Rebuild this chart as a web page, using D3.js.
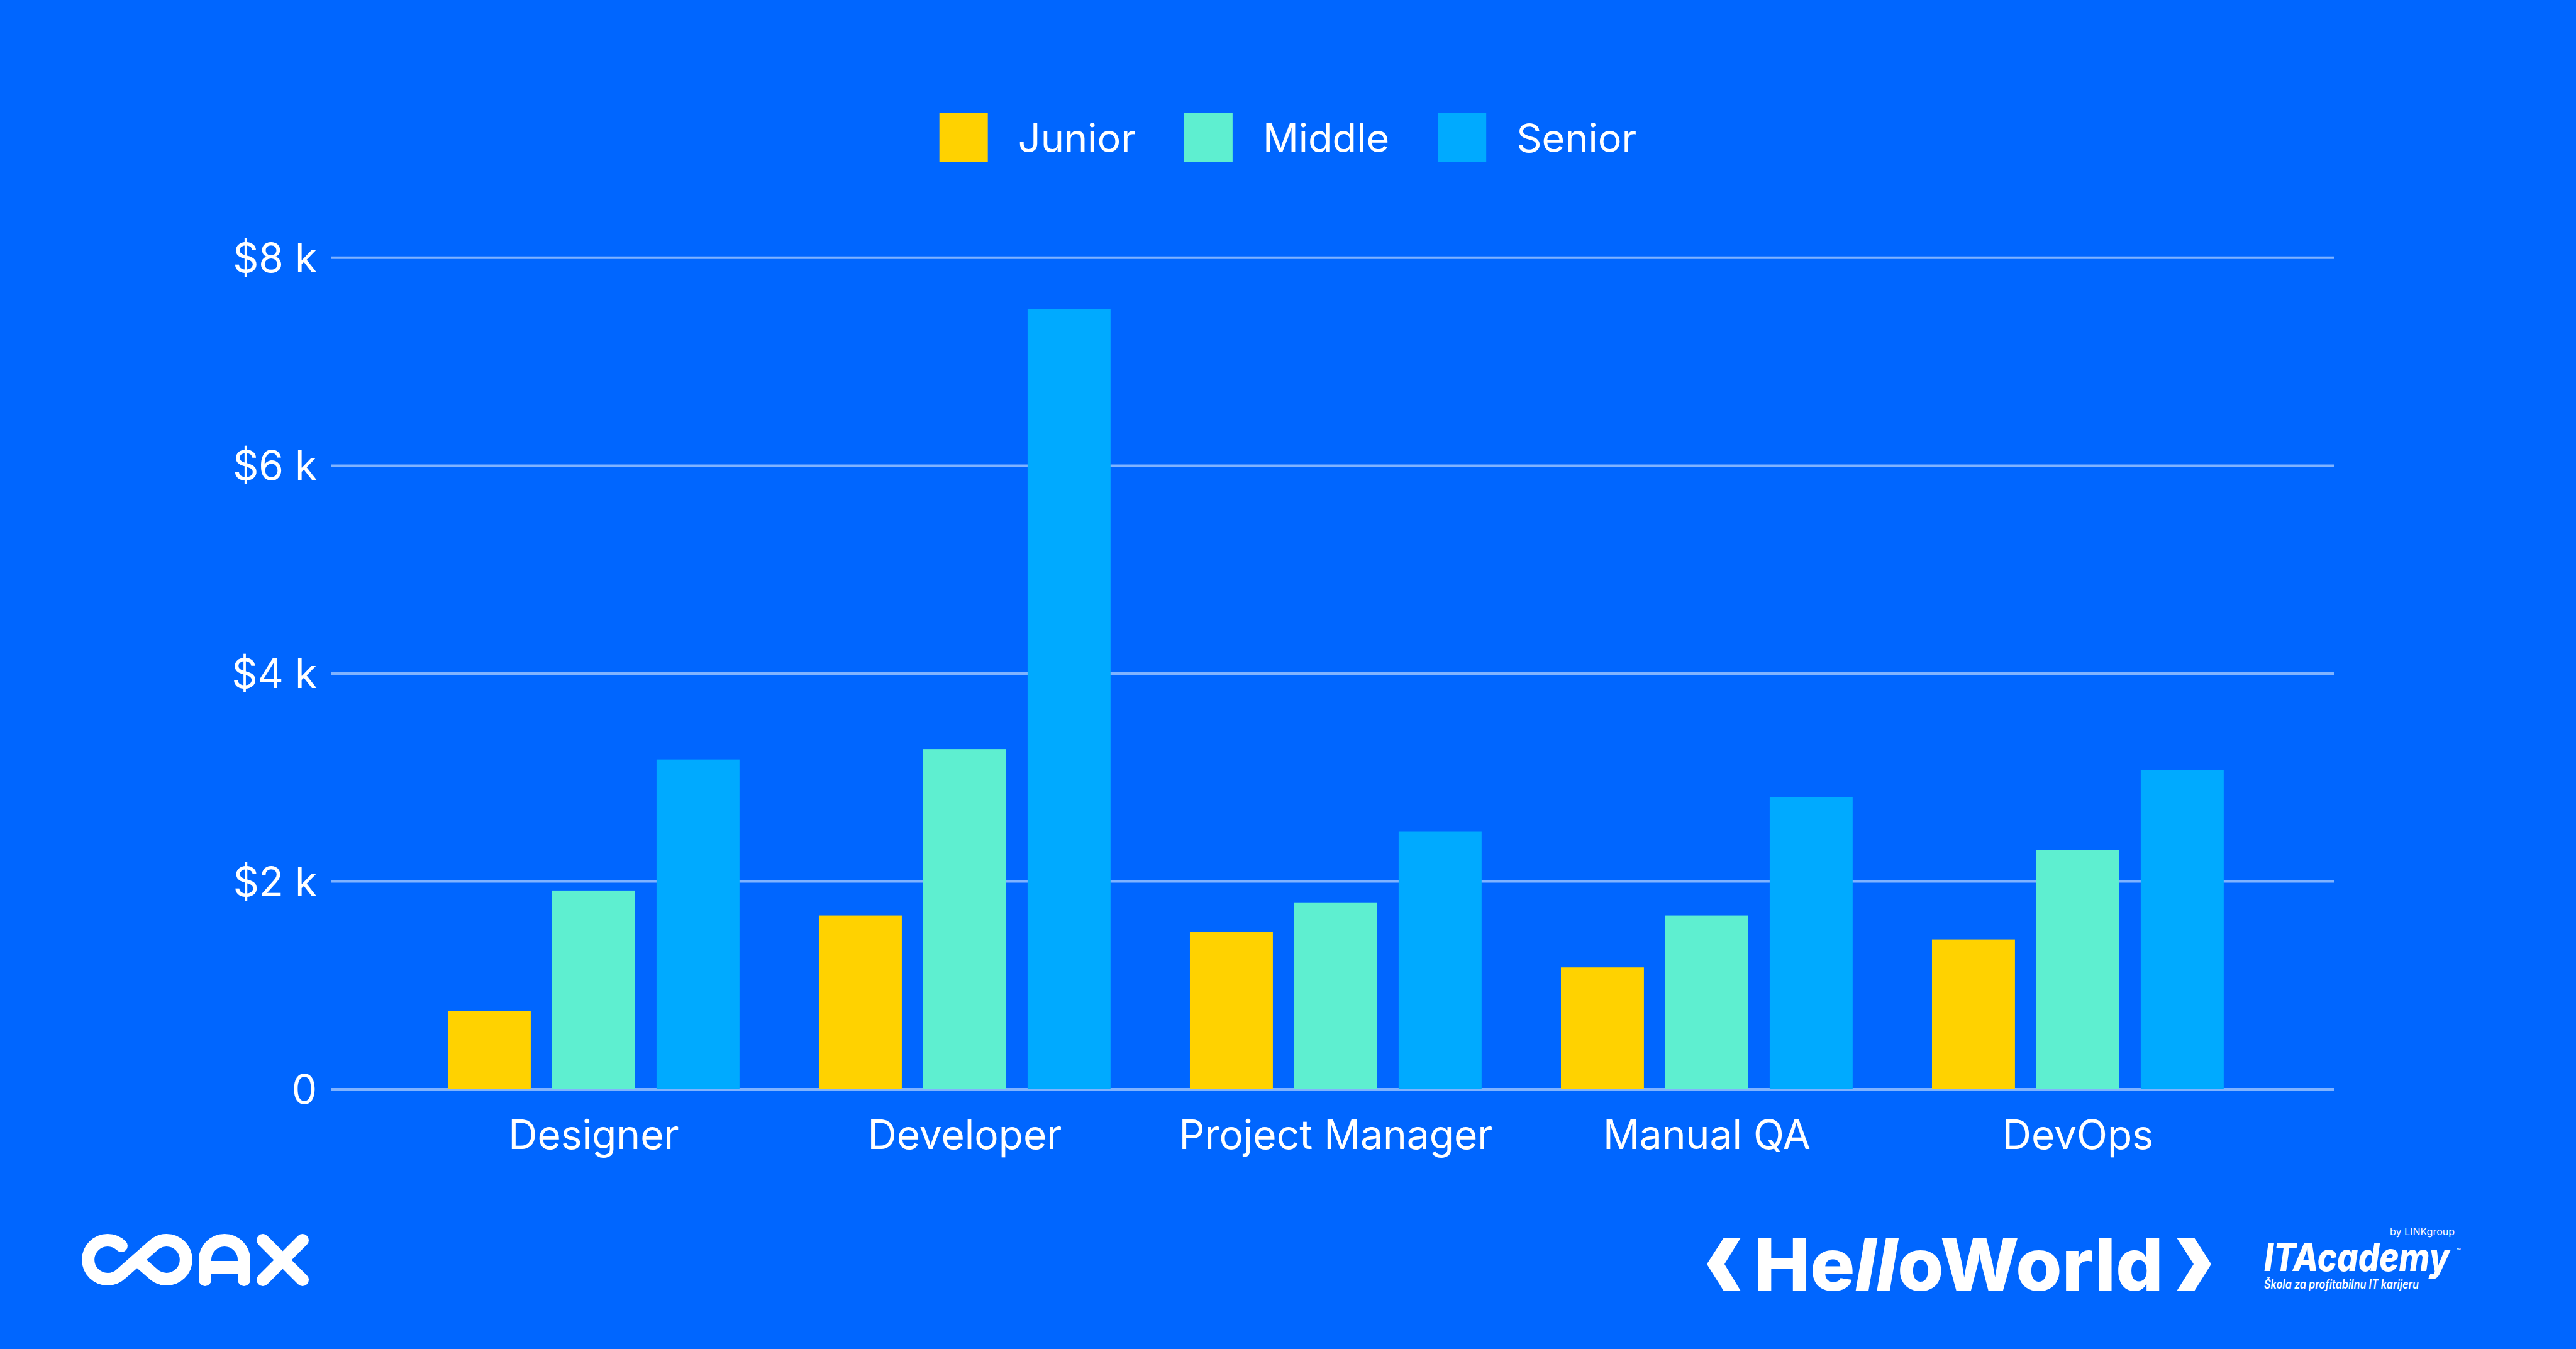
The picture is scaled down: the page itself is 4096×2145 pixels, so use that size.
<!DOCTYPE html>
<html>
<head>
<meta charset="utf-8">
<script src="https://cdn.jsdelivr.net/npm/d3@7/dist/d3.min.js"></script>
<style>
  html, body { margin: 0; padding: 0; background: #0066FF; }
  svg { display: block; }
  text { font-family: Inter, "Noto Sans", sans-serif; }
</style>
</head>
<body>
<svg id="chart" width="4096" height="2145"></svg>
<script>
// ---- data ----
const categories = ["Designer", "Developer", "Project Manager", "Manual QA", "DevOps"];
const seriesNames = ["Junior", "Middle", "Senior"];
const junior = [750, 1670, 1510, 1170, 1440];
const middle = [1910, 3270, 1790, 1670, 2300];
const senior = [3170, 7500, 2475, 2810, 3065];
const yTicks = [0, 2000, 4000, 6000, 8000];
const seriesColors = ["#FFD200", "#5EEFD0", "#00AAFF"];

const seriesValues = [junior, middle, senior];
const rows = categories.map((c, i) => ({
  category: c,
  values: seriesNames.map((s, j) => ({ key: s, value: seriesValues[j][i], color: seriesColors[j] }))
}));

const W = 4096, H = 2145;
const plotLeft = 527, plotRight = 3711, plotTop = 409.3, plotBottom = 1731.6;

const svg = d3.select("#chart");
svg.append("rect").attr("width", W).attr("height", H).attr("fill", "#0066FF");

const y = d3.scaleLinear().domain([0, 8000]).range([plotBottom, plotTop]);
const x0 = d3.scaleBand().domain(categories).range([plotLeft, plotRight])
  .paddingInner(0).paddingOuter(0.1983).align(0.521);
const x1 = d3.scaleBand().domain(seriesNames).range([0, x0.bandwidth()])
  .paddingInner(0.205).paddingOuter(0.38);

// y axis + gridlines
const yAxis = d3.axisLeft(y).tickValues(yTicks)
  .tickSize(-(plotRight - plotLeft)).tickPadding(23)
  .tickFormat(d => d === 0 ? "0" : "$" + (d / 1000) + " k");
const gy = svg.append("g").attr("transform", `translate(${plotLeft},0)`).call(yAxis);
gy.select(".domain").remove();
gy.selectAll(".tick line").attr("stroke", "rgba(255,255,255,0.5)").attr("stroke-width", 4);
gy.selectAll(".tick text").attr("fill", "#FFFFFF").attr("font-size", 64)
  .attr("font-family", "Inter, sans-serif").attr("dy", "0.36em");

// bars
const groups = svg.append("g").selectAll("g").data(rows).join("g")
  .attr("transform", d => `translate(${x0(d.category)},0)`);
groups.selectAll("rect").data(d => d.values).join("rect")
  .attr("x", d => x1(d.key))
  .attr("width", x1.bandwidth())
  .attr("y", d => y(d.value))
  .attr("height", d => y(0) - y(d.value))
  .attr("fill", d => d.color);

// x axis
const xAxis = d3.axisBottom(x0).tickSize(0).tickPadding(50);
const gx = svg.append("g").attr("transform", `translate(0,${plotBottom})`).call(xAxis);
gx.select(".domain").remove();
gx.selectAll(".tick text").attr("fill", "#FFFFFF").attr("font-size", 64)
  .attr("font-family", "Inter, sans-serif");

// legend
const legend = svg.append("g");
const sw = 77, gapText = 48, gapItem = 77, legY = 180, legBase = 242;
let cx = 0;
seriesNames.forEach((s, i) => {
  const g = legend.append("g");
  g.append("rect").attr("x", 0).attr("y", legY).attr("width", sw).attr("height", sw).attr("fill", seriesColors[i]);
  const t = g.append("text").attr("x", sw + gapText).attr("y", legBase).attr("fill", "#FFFFFF")
    .attr("font-size", 63).text(s);
  const w = sw + gapText + t.node().getComputedTextLength();
  g.attr("transform", `translate(${cx},0)`);
  cx += w + gapItem;
});
const totalW = cx - gapItem;
legend.attr("transform", `translate(${W / 2 - totalW / 2},0)`);

// ---- logos ----
// COAX
const coax = svg.append("g").attr("fill", "none").attr("stroke", "#FFFFFF")
  .attr("stroke-width", 20).attr("stroke-linecap", "round").attr("stroke-linejoin", "round");
coax.append("path").attr("d",
  "M 193 1981 A 31 31 0 1 0 193 2025 L 243 1981 A 31 31 0 1 1 243 2025 L 220 2005");
coax.append("path").attr("d", "M 326 2035 L 326 2003 A 31 31 0 0 1 388 2003 L 388 2035 M 326 2015 L 388 2015");
coax.append("path").attr("d", "M 418 1972 L 481 2035 M 481 1972 L 418 2035");

// HelloWorld
const hw = svg.append("g").attr("fill", "#FFFFFF");
hw.append("polygon").attr("points", "2741,1968 2768,1968 2742,2010 2768,2053 2741,2053 2714,2010");
hw.append("polygon").attr("points", "3461,1968 3489,1968 3516,2010 3489,2053 3461,2053 3488,2010");
const hwt = hw.append("text").attr("x", 2789).attr("y", 2052)
  .attr("font-size", 116).attr("font-weight", 800)
  .attr("font-family", "Inter, 'Open Sans', sans-serif")
  .attr("textLength", 651).attr("lengthAdjust", "spacingAndGlyphs");
hwt.append("tspan").text("He");
hwt.append("tspan").attr("font-style", "italic").text("ll");
hwt.append("tspan").text("oWorld");

// ITAcademy
const ita = svg.append("g").attr("fill", "#FFFFFF");
ita.append("text").attr("x", 3903).attr("y", 1964).attr("text-anchor", "end")
  .attr("font-size", 16).attr("font-family", "'Open Sans', sans-serif").text("by LINKgroup");
ita.append("text").attr("x", 3600).attr("y", 2021)
  .attr("font-size", 62).attr("font-weight", 800).attr("font-style", "italic")
  .attr("font-family", "'Liberation Sans', Arial, sans-serif")
  .attr("textLength", 295).attr("lengthAdjust", "spacingAndGlyphs").text("ITAcademy");
ita.append("text").attr("x", 3906).attr("y", 1993)
  .attr("font-size", 11).attr("font-family", "'Liberation Sans', sans-serif").text("™");
ita.append("text").attr("x", 3600).attr("y", 2049)
  .attr("font-size", 20).attr("font-weight", 600).attr("font-style", "italic")
  .attr("font-family", "'Open Sans', sans-serif")
  .attr("textLength", 246).attr("lengthAdjust", "spacingAndGlyphs").text("Škola za profitabilnu IT karijeru");
</script>
</body>
</html>
